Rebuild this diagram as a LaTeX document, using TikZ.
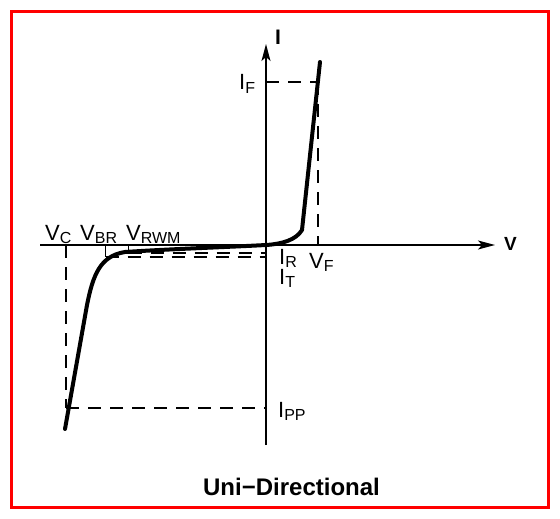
\documentclass[tikz,border=0pt]{standalone}
\usepackage{fontspec}
\setmainfont{Liberation Sans}
\usetikzlibrary{arrows.meta}
\newcommand\mylbl[2]{#1\raisebox{-3pt}{\fontsize{16}{16}\selectfont #2}}
\tikzset{
  axis/.style={line width=1.2pt,-{Stealth[length=17pt,width=9pt,inset=4pt]}},
  dash line/.style={line width=1.3pt,dash pattern=on 13pt off 9pt},
  curve/.style={line width=4pt,line cap=round,line join=round},
  tick/.style={line width=1.2pt},
  lab/.style={font=\fontsize{22}{26}\selectfont,inner sep=0pt,anchor=base west},
  axlab/.style={font=\fontsize{19}{22}\selectfont\bfseries,inner sep=0pt,anchor=base west},
}
\begin{document}
\begin{tikzpicture}[x=1pt,y=-1pt]
\useasboundingbox (0,0) rectangle (560,519);
\draw[red,line width=3pt] (11.5,11.5) rectangle (548.5,507);
% coordinates
\coordinate (O) at (266,245);
\coordinate (Vl) at (40,245);
\coordinate (Vr) at (495,245);
\coordinate (Ib) at (266,445);
\coordinate (It) at (266,44);
\coordinate (IFa) at (266,82);
\coordinate (IFb) at (318,82);
\coordinate (VFa) at (318,245);
\coordinate (VCa) at (66,245);
\coordinate (VCb) at (66,408);
\coordinate (IPPa) at (266,408);
\coordinate (VBRa) at (105.5,245);
\coordinate (VBRb) at (105.5,257);
\coordinate (ITa) at (266,257);
\coordinate (VRa) at (128.5,245);
\coordinate (VRb) at (128.5,253);
\coordinate (IRa) at (266,253);
% axes
\draw[axis] (Vl) -- (Vr);
\draw[axis] (Ib) -- (It);
% dashed guides
\draw[dash line] (IFa) -- (IFb);
\draw[dash line] (IFb) -- (VFa);
\draw[dash line] (VCa) -- (VCb);
\draw[dash line] (VCb) -- (IPPa);
\draw[dash line] (VRb) -- (IRa);
\draw[dash line] (VBRb) -- (ITa);
% ticks
\draw[tick] (VBRa) -- (VBRb);
\draw[tick] (VRa) -- (VRb);
% characteristic curve
\draw[curve] (65,429) -- (87,305) .. controls (93,275) and (100,256) .. (125,252)
  .. controls (170,249) and (230,247) .. (O)
  .. controls (282,244) and (296,240) .. (302,230) -- (320,62);
% labels
\node[axlab,font=\fontsize{21}{24}\selectfont\bfseries] (Il) at (275,45) {I};
\node[axlab] (Vlab) at (504,250) {V};
\node[lab] (IF) at (239,90) {\mylbl{I}{F}};
\node[lab] (VF) at (309,268) {\mylbl{V}{F}};
\node[lab] (IR) at (279,264) {\mylbl{I}{R}};
\node[lab] (IT) at (279,284.5) {\mylbl{I}{T}};
\node[lab] (IPP) at (278,417) {\mylbl{I}{PP}};
\node[lab] (VC) at (45,240) {\mylbl{V}{C}};
\node[lab] (VBR) at (80,240) {\mylbl{V}{BR}};
\node[lab] (VRWM) at (126,240) {\mylbl{V}{RWM}};
\node[font=\fontsize{24}{28}\selectfont\bfseries,inner sep=0pt,anchor=base] (title) at (291.5,495) {Uni−Directional};
\end{tikzpicture}
\end{document}
